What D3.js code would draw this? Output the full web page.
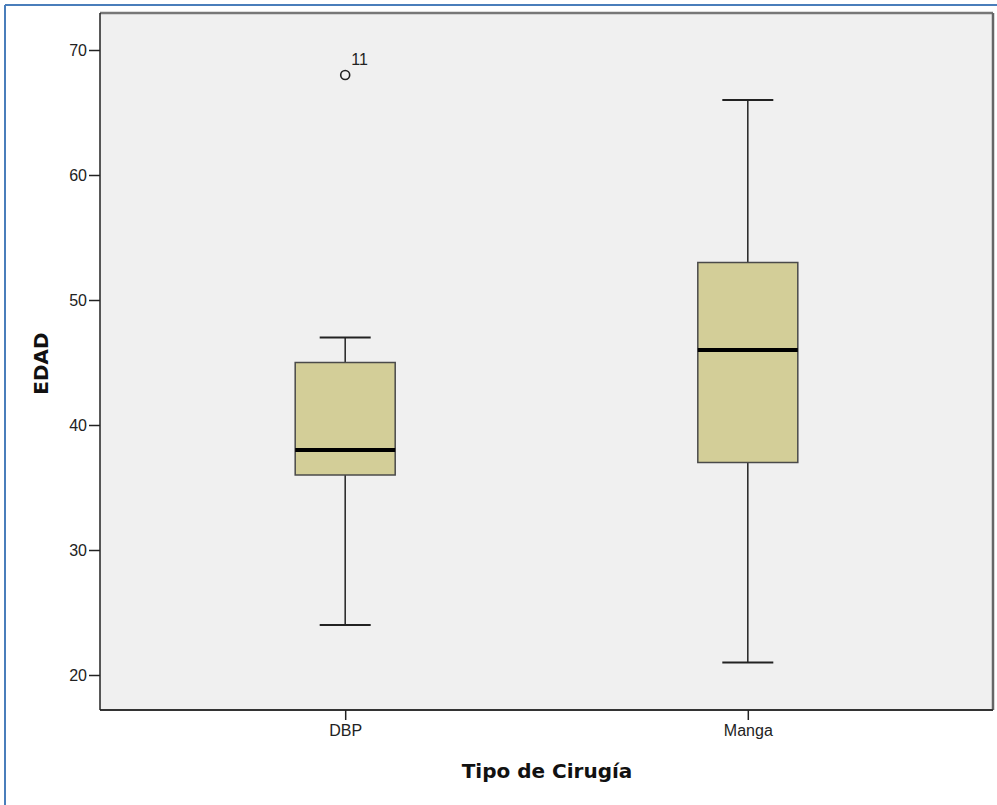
<!DOCTYPE html>
<html><head><meta charset="utf-8">
<script src="https://cdn.jsdelivr.net/npm/d3@7/dist/d3.min.js"></script>
<style>body{margin:0;background:#fff;}svg{display:block;font-family:Arial,"Liberation Sans",sans-serif;}</style>
</head><body>
<svg id="c" width="997" height="805"></svg>
<script>
const categories = ["DBP", "Manga"];
const whiskerLow = [24, 21];
const q1 = [36, 37];
const median = [38, 46];
const q3 = [45, 53];
const whiskerHigh = [47, 66];
const outlierCat = ["DBP"];
const outlierVal = [68];
const outlierLabel = ["11"];
const yTicks = [20, 30, 40, 50, 60, 70];

const svg = d3.select("#c");
const L = 100, R = 993, T = 13, B = 710;
const FONT = "Arial,'Liberation Sans',sans-serif";
const BOLDFONT = "'DejaVu Sans',Verdana,sans-serif";

// blue image border (top & left)
svg.append("line").attr("x1", 5).attr("x2", 997).attr("y1", 5).attr("y2", 5).attr("stroke", "#4a7ebb").attr("stroke-width", 2);
svg.append("line").attr("x1", 5).attr("x2", 5).attr("y1", 5).attr("y2", 805).attr("stroke", "#4a7ebb").attr("stroke-width", 2);

const y = d3.scaleLinear().domain([20, 70]).range([675, 50]);
const x = d3.scalePoint().domain(categories).range([L, R]).padding(0.609);

svg.append("rect").attr("x", L).attr("y", T).attr("width", R - L).attr("height", B - T).attr("fill", "#f0f0f0");

const boxW = 100, capW = 51;
const g = svg.append("g");
categories.forEach((c, i) => {
  const cx = x(c);
  g.append("line").attr("x1", cx).attr("x2", cx).attr("y1", y(whiskerHigh[i])).attr("y2", y(q3[i])).attr("stroke", "#222").attr("stroke-width", 1.5);
  g.append("line").attr("x1", cx).attr("x2", cx).attr("y1", y(q1[i])).attr("y2", y(whiskerLow[i])).attr("stroke", "#222").attr("stroke-width", 1.5);
  g.append("line").attr("x1", cx - capW / 2).attr("x2", cx + capW / 2).attr("y1", y(whiskerHigh[i])).attr("y2", y(whiskerHigh[i])).attr("stroke", "#222").attr("stroke-width", 2);
  g.append("line").attr("x1", cx - capW / 2).attr("x2", cx + capW / 2).attr("y1", y(whiskerLow[i])).attr("y2", y(whiskerLow[i])).attr("stroke", "#222").attr("stroke-width", 2);
  g.append("rect").attr("x", cx - boxW / 2).attr("y", y(q3[i])).attr("width", boxW).attr("height", y(q1[i]) - y(q3[i]))
    .attr("fill", "#d3ce98").attr("stroke", "#4a4a4a").attr("stroke-width", 1.5);
  g.append("line").attr("x1", cx - boxW / 2).attr("x2", cx + boxW / 2).attr("y1", y(median[i])).attr("y2", y(median[i])).attr("stroke", "#000").attr("stroke-width", 4);
});
outlierCat.forEach((c, i) => {
  g.append("circle").attr("cx", x(c)).attr("cy", y(outlierVal[i])).attr("r", 4.5).attr("fill", "none").attr("stroke", "#222").attr("stroke-width", 1.6);
  g.append("text").attr("x", x(c) + 6).attr("y", y(outlierVal[i]) - 10).attr("font-size", 16).attr("fill", "#222").text(outlierLabel[i]);
});

// frame
svg.append("line").attr("x1", L).attr("x2", R).attr("y1", T).attr("y2", T).attr("stroke", "#777").attr("stroke-width", 2.5);
svg.append("line").attr("x1", R).attr("x2", R).attr("y1", T).attr("y2", B).attr("stroke", "#666").attr("stroke-width", 2.5);
svg.append("line").attr("x1", L).attr("x2", R).attr("y1", B).attr("y2", B).attr("stroke", "#333").attr("stroke-width", 2);
svg.append("line").attr("x1", L).attr("x2", L).attr("y1", T).attr("y2", B).attr("stroke", "#222").attr("stroke-width", 1.5);

const yAxis = svg.append("g").attr("transform", `translate(${L},0)`)
  .call(d3.axisLeft(y).tickValues(yTicks).tickSize(11).tickPadding(2));
yAxis.select(".domain").remove();
yAxis.selectAll("line").attr("stroke", "#222").attr("stroke-width", 1.5);
yAxis.selectAll("text").attr("font-size", 16).attr("fill", "#222").attr("font-family", FONT);

const xAxis = svg.append("g").attr("transform", `translate(0,${B})`)
  .call(d3.axisBottom(x).tickSize(10).tickPadding(5));
xAxis.select(".domain").remove();
xAxis.selectAll("line").attr("stroke", "#222").attr("stroke-width", 1.5);
xAxis.selectAll("text").attr("font-size", 16).attr("fill", "#222").attr("font-family", FONT);

svg.append("text").attr("x", 547).attr("y", 778).attr("text-anchor", "middle").attr("font-family", BOLDFONT)
  .attr("font-size", 20).attr("font-weight", "bold").attr("fill", "#111").text("Tipo de Cirugía");
svg.append("text").attr("transform", `translate(48,${(T + B) / 2 + 2}) rotate(-90)`).attr("text-anchor", "middle").attr("font-family", BOLDFONT)
  .attr("font-size", 20).attr("font-weight", "bold").attr("fill", "#111").text("EDAD");
</script>
</body></html>
